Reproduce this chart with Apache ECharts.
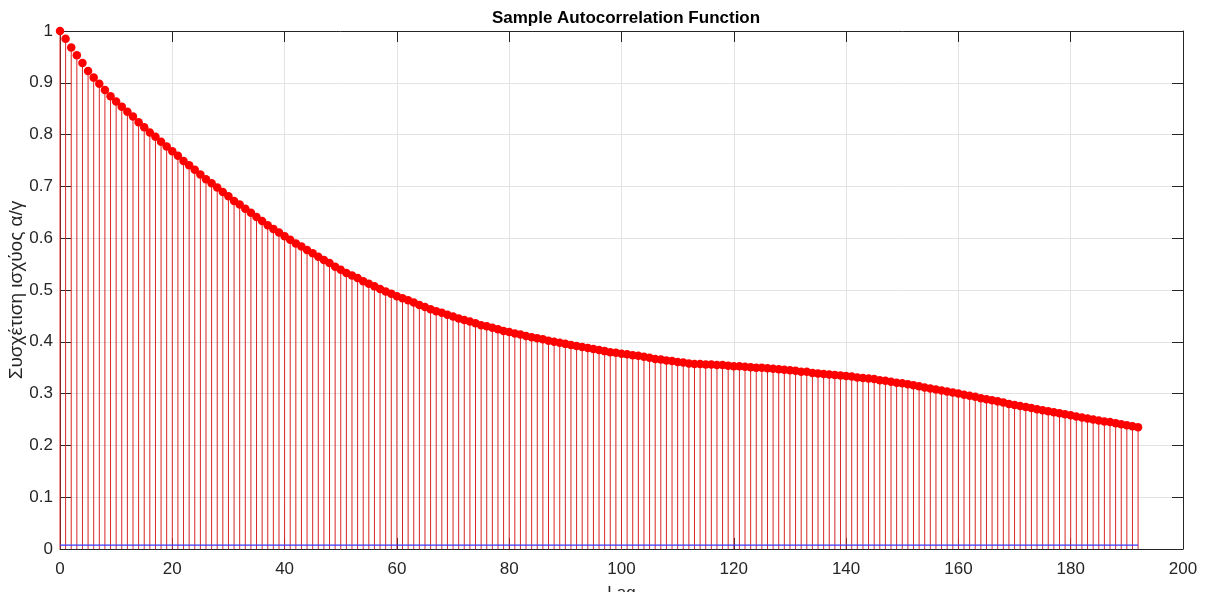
<!DOCTYPE html>
<html>
<head>
<meta charset="utf-8">
<title>Sample Autocorrelation Function</title>
<script src="https://cdn.jsdelivr.net/npm/echarts@6/dist/echarts.min.js"></script>
<style>
  html, body { margin: 0; padding: 0; background: #ffffff; }
  #chart { width: 1211px; height: 592px; }
</style>
</head>
<body>
<div id="chart"></div>
<script>
// Sample autocorrelation, lags 0..192
const acf = [
  1.000, 0.985, 0.968, 0.953, 0.938, 0.923, 0.910, 0.898, 0.886, 0.874,
  0.864, 0.854, 0.844, 0.835, 0.824, 0.814, 0.804, 0.796, 0.786, 0.777,
  0.768, 0.759, 0.749, 0.741, 0.732, 0.723, 0.714, 0.706, 0.698, 0.689,
  0.681, 0.672, 0.665, 0.657, 0.649, 0.641, 0.633, 0.625, 0.618, 0.611,
  0.604, 0.597, 0.590, 0.584, 0.577, 0.571, 0.564, 0.558, 0.552, 0.545,
  0.539, 0.533, 0.528, 0.523, 0.517, 0.512, 0.507, 0.502, 0.497, 0.493,
  0.488, 0.484, 0.480, 0.476, 0.471, 0.467, 0.463, 0.459, 0.456, 0.452,
  0.449, 0.445, 0.442, 0.439, 0.436, 0.432, 0.430, 0.427, 0.424, 0.421,
  0.419, 0.416, 0.414, 0.411, 0.409, 0.407, 0.405, 0.402, 0.400, 0.398,
  0.396, 0.394, 0.392, 0.390, 0.388, 0.386, 0.384, 0.382, 0.380, 0.379,
  0.377, 0.376, 0.374, 0.373, 0.371, 0.369, 0.367, 0.366, 0.364, 0.363,
  0.361, 0.360, 0.358, 0.357, 0.357, 0.356, 0.356, 0.355, 0.355, 0.354,
  0.353, 0.353, 0.352, 0.351, 0.350, 0.350, 0.349, 0.348, 0.347, 0.346,
  0.345, 0.344, 0.342, 0.342, 0.340, 0.339, 0.338, 0.337, 0.336, 0.335,
  0.334, 0.333, 0.331, 0.330, 0.329, 0.328, 0.326, 0.325, 0.323, 0.321,
  0.320, 0.318, 0.316, 0.314, 0.312, 0.310, 0.308, 0.306, 0.304, 0.302,
  0.300, 0.298, 0.296, 0.294, 0.291, 0.289, 0.287, 0.285, 0.283, 0.280,
  0.278, 0.276, 0.274, 0.272, 0.270, 0.268, 0.266, 0.264, 0.262, 0.260,
  0.258, 0.256, 0.254, 0.252, 0.250, 0.248, 0.246, 0.245, 0.243, 0.241,
  0.239, 0.237, 0.235
];
const lags = acf.map((_, i) => i);
const maxLag = lags[lags.length - 1];

// Upper confidence bound
const confBound = 0.0075;

const titleText = 'Sample Autocorrelation Function';
const xName = 'Lag';
const yName = 'Συσχέτιση ισχύος α/γ';

const axisColor = '#262626';
const gridColor = '#e3e3e3';
const font = '"Liberation Sans", Arial, Helvetica, sans-serif';

const points = lags.map((l, i) => [l, acf[i]]);

const chart = echarts.init(document.getElementById('chart'), null, { renderer: 'canvas' });

const commonTick = { show: true, inside: true, length: 11, lineStyle: { color: axisColor, width: 1 } };

chart.setOption({
  animation: false,
  backgroundColor: '#ffffff',
  title: {
    text: titleText,
    left: 621, textAlign: 'center',
    top: 5,
    textStyle: { fontFamily: font, fontSize: 17, fontWeight: 'bold', color: '#000000' }
  },
  grid: { left: 60, right: 28, top: 31, bottom: 43, containLabel: false, outerBoundsMode: 'none' },
  xAxis: [
    {
      type: 'value', min: 0, max: 200, interval: 20, position: 'bottom',
      name: xName, nameLocation: 'middle', nameGap: 36, nameMoveOverlap: false,
      nameTextStyle: { fontFamily: font, fontSize: 17, color: '#262626' },
      axisLine: { show: true, onZero: false, lineStyle: { color: axisColor, width: 1 } },
      axisTick: commonTick,
      axisLabel: { margin: 12, fontFamily: font, fontSize: 17, color: '#262626' },
      splitLine: { show: true, lineStyle: { color: gridColor, width: 1 } }
    },
    {
      type: 'value', min: 0, max: 200, interval: 20, position: 'top',
      axisLine: { show: true, onZero: false, lineStyle: { color: axisColor, width: 1 } },
      axisTick: commonTick,
      axisLabel: { show: false },
      splitLine: { show: false }
    }
  ],
  yAxis: [
    {
      type: 'value', min: 0, max: 1, interval: 0.1, position: 'left',
      name: yName, nameLocation: 'middle', nameGap: 34, nameRotate: 90, nameMoveOverlap: false,
      nameTextStyle: { fontFamily: font, fontSize: 19, color: '#262626' },
      axisLine: { show: true, onZero: false, lineStyle: { color: axisColor, width: 1 } },
      axisTick: commonTick,
      axisLabel: {
        margin: 7, fontFamily: font, fontSize: 17, color: '#262626',
        formatter: v => String(Math.round(v * 10) / 10)
      },
      splitLine: { show: true, lineStyle: { color: gridColor, width: 1 } }
    },
    {
      type: 'value', min: 0, max: 1, interval: 0.1, position: 'right',
      axisLine: { show: true, onZero: false, lineStyle: { color: axisColor, width: 1 } },
      axisTick: commonTick,
      axisLabel: { show: false },
      splitLine: { show: false }
    }
  ],
  series: [
    {
      // stems from zero up to each autocorrelation value
      type: 'custom',
      name: 'stems',
      xAxisIndex: 0, yAxisIndex: 0,
      data: points,
      z: 2,
      renderItem: (params, api) => {
        const base = api.coord([api.value(0), 0]);
        const top = api.coord([api.value(0), api.value(1)]);
        return {
          type: 'line',
          shape: { x1: base[0], y1: base[1], x2: top[0], y2: top[1] },
          style: { stroke: '#d92626', lineWidth: 1 }
        };
      }
    },
    {
      type: 'line',
      name: 'bound',
      xAxisIndex: 0, yAxisIndex: 0,
      data: [[0, confBound], [maxLag, confBound]],
      symbol: 'none',
      lineStyle: { color: '#3a3aff', width: 1.2 },
      z: 3
    },
    {
      type: 'scatter',
      name: 'acf',
      xAxisIndex: 0, yAxisIndex: 0,
      data: points,
      symbol: 'circle',
      symbolSize: 8.5,
      itemStyle: { color: '#ff0000', opacity: 1 },
      z: 4
    }
  ]
});
</script>
</body>
</html>
